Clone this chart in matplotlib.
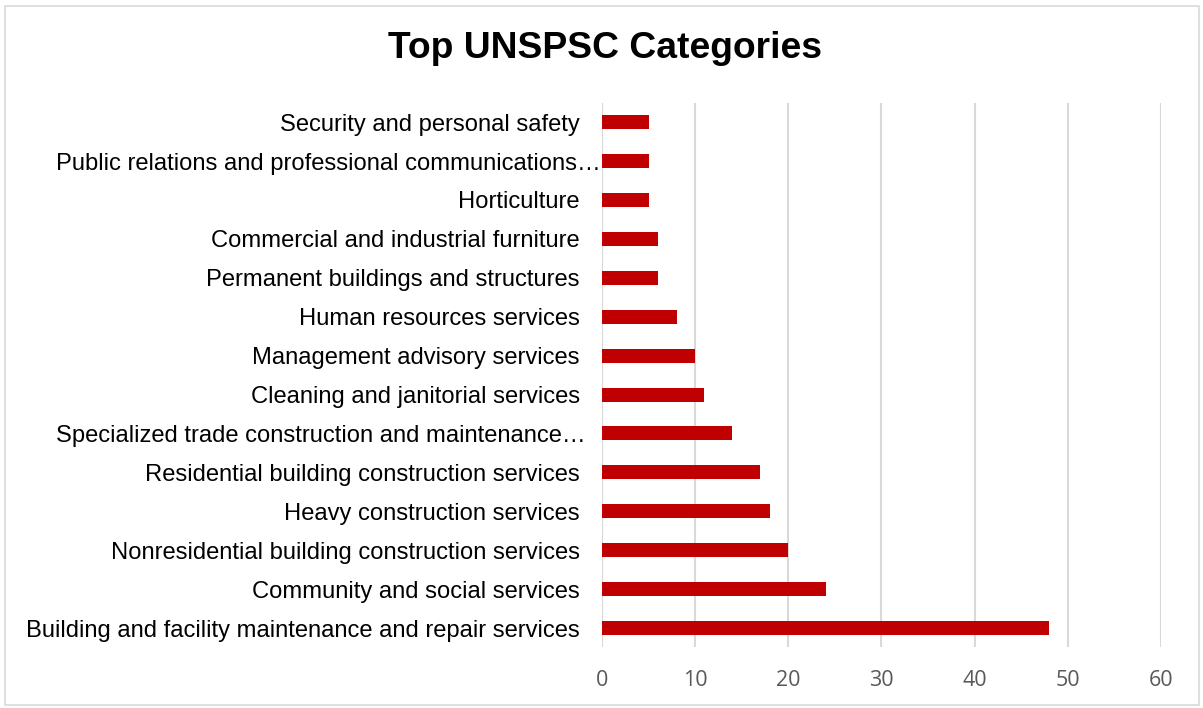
import matplotlib.pyplot as plt
from matplotlib.patches import Rectangle
from matplotlib.transforms import blended_transform_factory

categories = [
    "Building and facility maintenance and repair services",
    "Community and social services",
    "Nonresidential building construction services",
    "Heavy construction services",
    "Residential building construction services",
    "Specialized trade construction and maintenance\u2026",
    "Cleaning and janitorial services",
    "Management advisory services",
    "Human resources services",
    "Permanent buildings and structures",
    "Commercial and industrial furniture",
    "Horticulture",
    "Public relations and professional communications\u2026",
    "Security and personal safety",
]
counts = [48, 24, 20, 18, 17, 14, 11, 10, 8, 6, 6, 5, 5, 5]
truncated = [5, 12]
x_ticks = [0, 10, 20, 30, 40, 50, 60]

fig = plt.figure(figsize=(12.03, 7.08), dpi=100)
ax = fig.add_axes([0.5004, 0.0855, 0.4646, 0.7695])

pos = list(range(len(categories)))
ax.barh(pos, counts, height=0.36, color="#c00000", zorder=3)
ax.set_ylim(-0.5, len(categories) - 0.5)
ax.set_xlim(0, 60)
ax.set_xticks(x_ticks)
ax.set_yticks([])
ax.grid(axis="x", color="#d9d9d9", linewidth=1.5, zorder=0)
for s in ax.spines.values():
    s.set_visible(False)
ax.tick_params(axis="x", length=0, pad=16, labelsize=15.5, labelcolor="#595959")
for lab in ax.get_xticklabels():
    lab.set_fontfamily("Open Sans")

# category labels
tr = blended_transform_factory(fig.transFigure, ax.transData)
for i, name in enumerate(categories):
    if i in truncated:
        ax.text(56 / 1203, i, name, transform=tr, ha="left", va="center_baseline",
                fontsize=17.1, family="Liberation Sans", color="black")
    else:
        ax.text(580 / 1203, i, name, transform=tr, ha="right", va="center_baseline",
                fontsize=17.1, family="Liberation Sans", color="black")

fig.text(0.5025, 0.932, "Top UNSPSC Categories", ha="center", va="center",
         fontsize=26.8, fontweight="bold", family="Liberation Sans")

fig.patches.append(Rectangle((5 / 1203, 3 / 708), 1194 / 1203, 699 / 708,
                             transform=fig.transFigure, fill=False,
                             edgecolor="#d9d9d9", linewidth=1.2))

fig.savefig("out.png", dpi=100)
